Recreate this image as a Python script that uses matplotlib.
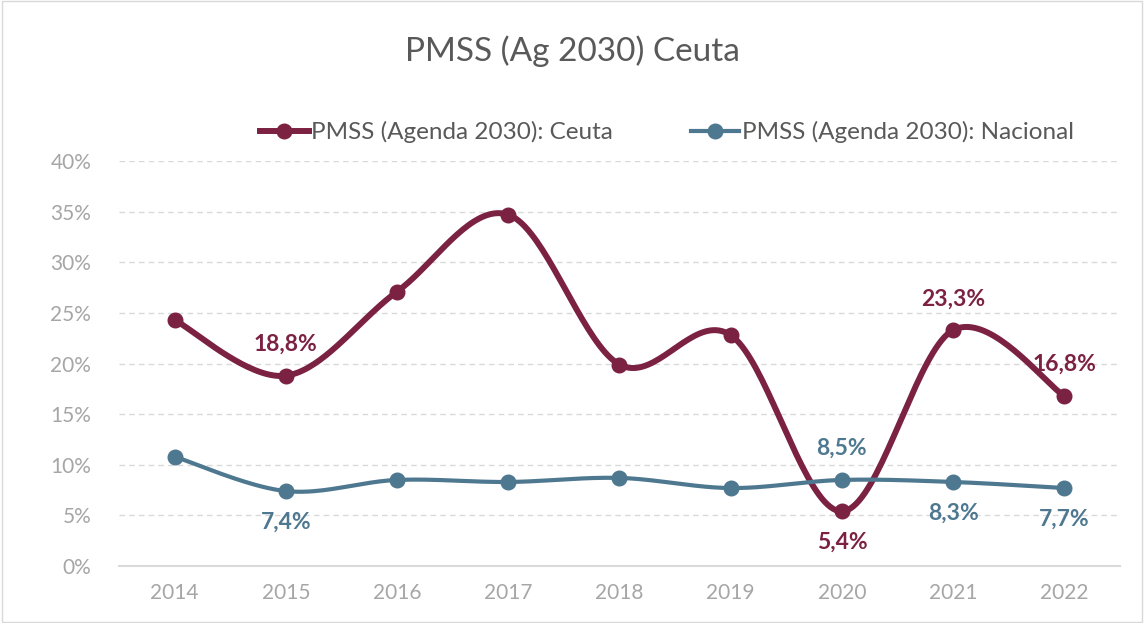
import numpy as np
import matplotlib
matplotlib.use("Agg")
import matplotlib.pyplot as plt
from matplotlib.patches import Rectangle

plt.rcParams['font.family'] = ['Lato', 'DejaVu Sans']

years = ['2014', '2015', '2016', '2017', '2018', '2019', '2020', '2021', '2022']
ceuta = [24.3, 18.8, 27.1, 34.7, 19.9, 22.8, 5.4, 23.3, 16.8]
nacional = [10.8, 7.4, 8.5, 8.3, 8.7, 7.7, 8.5, 8.3, 7.7]
# which points carry a label, and where (+1 above, -1 below)
ceuta_lab = {1: 1, 6: -1, 7: 1, 8: 1}
nac_lab = {1: -1, 6: 1, 7: -1, 8: -1}

c_ceuta = '#7B2142'
c_nac = '#4E7890'


def smooth(x, y, n=40):
    # Excel-like smoothed line (Catmull-Rom bezier)
    x = np.asarray(x, float)
    y = np.asarray(y, float)
    px = np.concatenate([[x[0]], x, [x[-1]]])
    py = np.concatenate([[y[0]], y, [y[-1]]])
    xs, ys = [], []
    t = np.linspace(0, 1, n)
    for i in range(1, len(px) - 2):
        p0 = np.array([px[i], py[i]])
        p3 = np.array([px[i + 1], py[i + 1]])
        p1 = p0 + (p3 - np.array([px[i - 1], py[i - 1]])) / 6
        p2 = p3 - (np.array([px[i + 2], py[i + 2]]) - p0) / 6
        b = ((1 - t) ** 3)[:, None] * p0 + (3 * (1 - t) ** 2 * t)[:, None] * p1 \
            + (3 * (1 - t) * t ** 2)[:, None] * p2 + (t ** 3)[:, None] * p3
        xs.extend(b[:, 0])
        ys.extend(b[:, 1])
    return np.array(xs), np.array(ys)


fig = plt.figure(figsize=(11.44, 6.23), dpi=100)
ax = fig.add_axes([0.104, 0.0915, 0.875, 0.65])
fig.patches.append(Rectangle((0.002, 0.002), 0.996, 0.996, transform=fig.transFigure,
                             fill=False, edgecolor='#D9D9D9', linewidth=1))

x = np.arange(len(years))
for vals, col, lab, lw in [(ceuta, c_ceuta, 'PMSS (Agenda 2030): Ceuta', 4.3),
                           (nacional, c_nac, 'PMSS (Agenda 2030): Nacional', 3.0)]:
    sx, sy = smooth(x, vals)
    ax.plot(sx, sy, color=col, linewidth=lw, solid_capstyle='round', zorder=3)
    ax.plot(x, vals, 'o', color=col, markersize=10.5, zorder=4)
    ax.plot([], [], '-o', color=col, linewidth=lw, markersize=10.5, label=lab)

for vals, col, labs in [(ceuta, c_ceuta, ceuta_lab), (nacional, c_nac, nac_lab)]:
    for i, pos in labs.items():
        ax.annotate(f'{vals[i]:.1f}%'.replace('.', ','), (x[i], vals[i]),
                    xytext=(0, 15 * pos), textcoords='offset points',
                    ha='center', va='bottom' if pos > 0 else 'top',
                    fontsize=16.5, fontweight='bold', color=col, zorder=5)

ax.set_xlim(-0.5, len(years) - 0.5)
ax.set_ylim(0, 40)
ax.set_xticks(x)
ax.set_xticklabels(years)
ax.set_yticks(np.arange(0, 41, 5))
ax.set_yticklabels([f'{v}%' for v in range(0, 41, 5)])
ax.tick_params(length=0, labelsize=15, labelcolor='#A6A6A6', pad=12)
ax.tick_params(axis='y', pad=20)
ax.grid(axis='y', color='#D9D9D9', linestyle=(0, (4, 3)), linewidth=1)
for s in ['top', 'right', 'left']:
    ax.spines[s].set_visible(False)
ax.spines['bottom'].set_color('#D9D9D9')
ax.spines['bottom'].set_linewidth(1.5)
ax.set_axisbelow(True)

fig.text(0.5, 0.918, 'PMSS (Ag 2030) Ceuta', ha='center', va='center',
         fontsize=24, color='#595959')
fig.legend(loc='center', bbox_to_anchor=(0.583, 0.788), ncol=2, frameon=False,
           fontsize=17.5, labelcolor='#595959', handlelength=2.0,
           handletextpad=0.1, columnspacing=3.2)

plt.savefig('out.png', dpi=100)
